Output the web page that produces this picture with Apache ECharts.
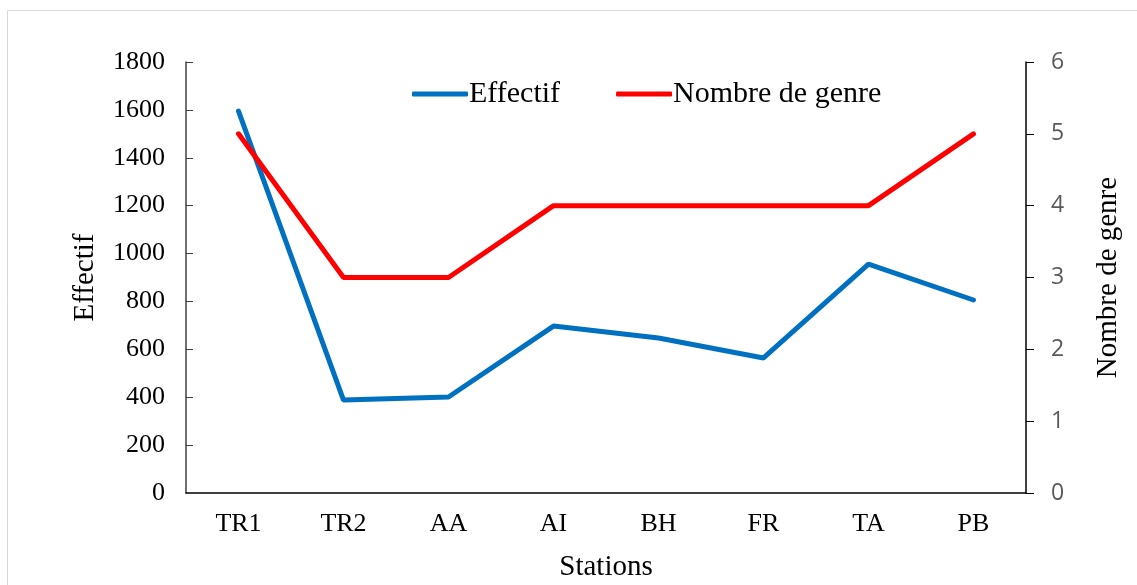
<!DOCTYPE html>
<html><head><meta charset="utf-8">
<script src="https://cdn.jsdelivr.net/npm/echarts@6/dist/echarts.min.js"></script>
<style>html,body{margin:0;padding:0;background:#fff}#c{width:1137px;height:585px}</style>
</head><body><div id="c"></div>
<script>
const stations = ['TR1','TR2','AA','AI','BH','FR','TA','PB'];
const effectif = [1595, 388, 401, 697, 647, 564, 956, 806];
const genres = [5, 3, 3, 4, 4, 4, 4, 5];

const chart = echarts.init(document.getElementById('c'));
const serif = '"Liberation Serif", "Times New Roman", serif';
chart.setOption({
  animation: false,
  backgroundColor: '#fff',
  graphic: [{type:'rect', shape:{x:7.5,y:10.5,width:1140,height:600}, style:{fill:'none', stroke:'#d9d9d9', lineWidth:1}, silent:true}],
  legend: {
    top: 74, left: 407, itemGap: 56, itemWidth: 56, itemHeight: 5,
    textStyle: {fontFamily: serif, fontSize: 30, color: '#000', padding:[0,0,0,-4]},
    data: [{name:'Effectif', icon:'roundRect'}, {name:'Nombre de genre', icon:'roundRect'}]
  },
  grid: {left: 186, right: 111, top: 62, bottom: 92, outerBoundsMode: 'none', containLabel: false},
  xAxis: {
    type: 'category', data: stations, boundaryGap: true,
    axisLine: {lineStyle: {color: '#000', width: 1.5}},
    axisTick: {show: false},
    axisLabel: {fontFamily: serif, fontSize: 26, color: '#000', margin: 18},
    name: 'Stations', nameLocation: 'middle', nameGap: 60,
    nameTextStyle: {fontFamily: serif, fontSize: 29, color: '#000'}
  },
  yAxis: [{
    type: 'value', min: 0, max: 1800, interval: 200,
    splitLine: {show: false},
    axisLine: {show: true, lineStyle: {color: '#404040', width: 1.5}},
    axisTick: {show: true, inside: true, length: 7, lineStyle: {color: '#404040'}},
    axisLabel: {fontFamily: serif, fontSize: 26, color: '#000', margin: 21, formatter: v => String(v)},
    name: 'Effectif', nameLocation: 'middle', nameGap: 86, nameRotate: 90,
    nameTextStyle: {fontFamily: serif, fontSize: 29, color: '#000'}
  }, {
    type: 'value', min: 0, max: 6, interval: 1, position: 'right',
    splitLine: {show: false},
    axisLine: {show: true, lineStyle: {color: '#000', width: 1.5}},
    axisTick: {show: true, inside: false, length: 8, lineStyle: {color: '#000'}},
    axisLabel: {fontFamily: '"Open Sans", "Liberation Sans", sans-serif', fontSize: 23, color: '#595959', margin: 25},
    name: 'Nombre de genre', nameLocation: 'middle', nameGap: 68, nameRotate: 90,
    nameTextStyle: {fontFamily: serif, fontSize: 29, color: '#000'}
  }],
  series: [{
    name: 'Effectif', type: 'line', data: effectif, yAxisIndex: 0,
    symbol: 'none', color: '#0070C0', lineStyle: {width: 5, cap: 'round'}
  }, {
    name: 'Nombre de genre', type: 'line', data: genres, yAxisIndex: 1,
    symbol: 'none', color: '#FF0000', lineStyle: {width: 5, cap: 'round'}
  }]
});
</script></body></html>
